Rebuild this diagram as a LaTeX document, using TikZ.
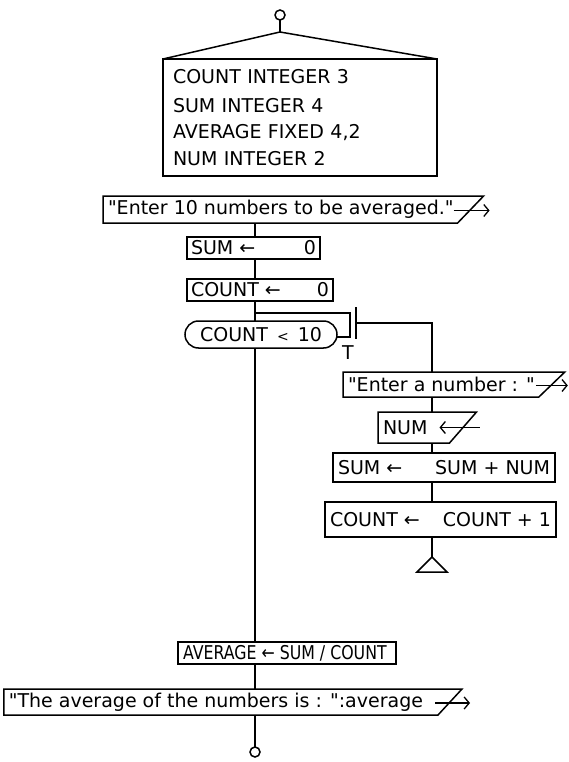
\documentclass[tikz,border=0pt]{standalone}
\usepackage{fontspec}
\usepackage{graphicx}
\setmainfont[Ligatures=TeXOff]{DejaVu Sans}
\usetikzlibrary{arrows.meta,shapes.misc,calc}
\begin{document}
\begin{tikzpicture}[x=1pt,y=-1pt,line width=1.5pt,
  every node/.style={font=\fontsize{19}{26.7}\selectfont, inner sep=0pt, outer sep=0pt},
  pbox/.style={draw, rectangle, anchor=north west},
  iobox/.style={rectangle, anchor=north west},
  ioarrow/.style={line width=1.3pt, -{Straight Barb[length=5pt,width=12pt,line width=1.3pt]}},
  termc/.style={draw, circle, minimum size=10pt},
]
\useasboundingbox (0,0) rectangle (569,762);

% declaration block
\node[termc] (start) at (280,15) {};
\node[pbox, minimum width=274pt, minimum height=117pt, text width=254pt, align=left] (decl) at (163,59)
  {\vspace*{2pt}COUNT INTEGER 3\\SUM INTEGER 4\\AVERAGE FIXED 4,2\\NUM INTEGER 2};
\coordinate (apex) at (280,32);
\draw (start.south) -- (apex);
\draw (decl.north west) -- (apex) -- (decl.north east);

% first output
\node[iobox, minimum height=27pt] (in1) at (103,196) {\hbox{\hspace{5pt}"Enter 10 numbers to be averaged."\hspace{4pt}}};
\draw (in1.north west) -- ($(in1.north east)+(26,0)$) -- (in1.south east) -- (in1.south west) -- cycle;
\draw[ioarrow] ($(in1.east)+(-4,1)$) -- ++(36,0);

% main column
\coordinate (mx) at (255,0);
\node[pbox, minimum width=133pt, minimum height=22pt] (s0) at (187,237) {\hbox to 125pt{SUM ←\hfill 0}};
\node[pbox, minimum width=146pt, minimum height=22pt] (c0) at (187,279) {\hbox to 138pt{COUNT ←\hfill 0}};
\node[draw, rounded rectangle, minimum width=152pt, minimum height=27pt] (cond) at (261,334.5)
  {COUNT\hspace{9pt}{\fontsize{14}{14}\selectfont <}\hspace{9pt}10};

\draw (in1.south -| mx) -- (s0.north -| mx);
\draw (s0.south -| mx) -- (c0.north -| mx);
\draw (c0.south -| mx) -- (cond.north -| mx);

% loop
\coordinate (j1) at (255,313);
\coordinate (lc) at (350,313);
\draw (j1) -- (lc) |- (cond.-2);
\coordinate (bt) at (356,307);
\coordinate (bb) at (356,339);
\coordinate (bm) at (356,323);
\draw[line width=2.4pt] (bt) -- (bb);
\node (tl) at (348,353) {T};
\coordinate (rx) at (432,0);

% loop body
\node[iobox, minimum height=25pt] (in2) at (343,372) {\hbox{\hspace{5pt}"Enter a number : "\hspace{4pt}}};
\draw (in2.north west) -- ($(in2.north east)+(26,0)$) -- (in2.south east) -- (in2.south west) -- cycle;
\draw[ioarrow] ($(in2.east)+(-3,1)$) -- ++(32,0);
\draw (bm) -- (bm -| rx) -- (in2.north -| rx);

\node[iobox, minimum height=31pt] (num) at (378,412) {\hbox{\hspace{5pt}NUM\hspace{22pt}}};
\draw (num.north west) -- ($(num.north east)+(27,0)$) -- (num.south east) -- (num.south west) -- cycle;
\draw[ioarrow] ($(num.east)+(30,0)$) -- ($(num.east)+(-10,0)$);

\node[pbox, minimum width=222pt, minimum height=29pt] (snum) at (333,453) {\hbox to 212pt{SUM ←\hfill SUM + NUM}};
\node[pbox, minimum width=231pt, minimum height=35pt] (cnt) at (325,502) {\hbox to 221pt{COUNT ←\hfill COUNT + 1}};
\coordinate (tri) at (432,557);
\draw (tri) -- ++(15,15) -- ++(-30,0) -- cycle;

\draw (in2.south -| rx) -- (num.north -| rx);
\draw (num.south -| rx) -- (snum.north -| rx);
\draw (snum.south -| rx) -- (cnt.north -| rx);
\draw (cnt.south -| rx) -- (tri);

% after loop
\node[pbox, minimum width=218pt, minimum height=22pt] (avg) at (178,642) {\hbox to 208pt{\scalebox{0.83}[1]{AVERAGE ← SUM / COUNT}\hfil}};
\node[iobox, anchor=north east, minimum height=26pt] (out) at (438,689) {\hbox{\hspace{5pt}"The average of the numbers is : ":average\hspace{15pt}}};
\draw (out.north west) -- ($(out.north east)+(24,0)$) -- (out.south east) -- (out.south west) -- cycle;
\draw[ioarrow] ($(out.east)+(-3,1)$) -- ++(35,0);
\node[termc] (stop) at (255,752) {};

\draw (cond.south -| mx) -- (avg.north -| mx);
\draw (avg.south -| mx) -- (out.north -| mx);
\draw (out.south -| mx) -- (stop.north);
\end{tikzpicture}
\end{document}
